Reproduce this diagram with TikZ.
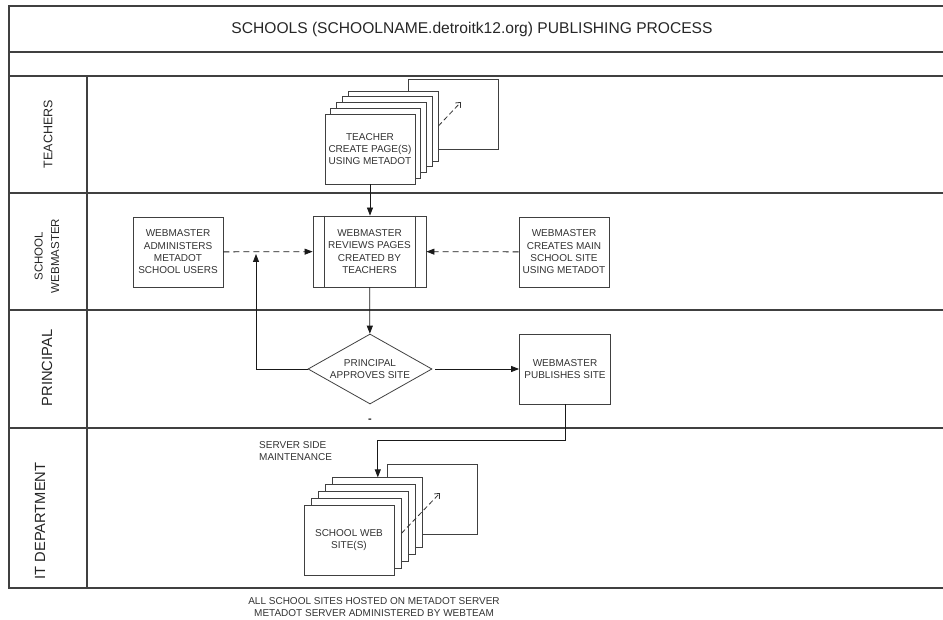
\documentclass[tikz,border=0pt]{standalone}
\usepackage{fontspec}
\setmainfont{Liberation Sans}
\usetikzlibrary{arrows.meta,shapes.geometric}

\begin{document}
\begin{tikzpicture}[x=1pt, y=-1pt,
    frame/.style={draw=black!75, line width=1.4pt},
    procbox/.style={draw=black!75, fill=white, line width=0.8pt, minimum width=90pt, minimum height=70pt, inner sep=1pt, align=center, font=\fontsize{10}{12.3}\selectfont, text=black!80},
    sheet/.style={procbox},
    lanelabel/.style={rotate=90, align=center, text=black!85},
    flowarrow/.style={draw=black!90, line width=0.8pt, -{Triangle[length=8pt,width=6pt]}},
    dasharrow/.style={flowarrow, dash pattern=on 6pt off 4pt},
    pagearrow/.style={draw=black!80, line width=0.8pt, dash pattern=on 5pt off 3pt, -{Straight Barb[length=4pt,width=7pt]}},
]
    \useasboundingbox (0,0) rectangle (943,620);

    % Swimlane frame
    \draw[frame] (943,6) -- (9,6) -- (9,588) -- (943,588);
    \foreach \y in {52,76,193,310,428} {
        \draw[frame] (9,\y) -- (943,\y);
    }
    \draw[frame] (87,76) -- (87,588);

    % Title
    \node[font=\fontsize{15.6}{18}\selectfont, text=black!85] (title) at (472,29) {SCHOOLS (SCHOOLNAME.detroitk12.org) PUBLISHING PROCESS};

    % Lane labels
    \node[lanelabel, font=\fontsize{12.5}{15}\selectfont] (lteach) at (48,134) {TEACHERS};
    \node[lanelabel, font=\fontsize{11.5}{16.5}\selectfont] (lweb) at (47,256) {SCHOOL\\WEBMASTER};
    \node[lanelabel, font=\fontsize{14.7}{17}\selectfont] (lprin) at (47,368) {PRINCIPAL};
    \node[lanelabel, font=\fontsize{14.7}{17}\selectfont] (lit) at (40,521) {IT DEPARTMENT};

    % Teachers lane - stack of pages
    \node[sheet] (tchback) at (453,114) {};
    \foreach \k in {4,...,1} {
        \node[sheet] (tch\k) at ({370+5.75*\k},{149-5.75*\k}) {};
    }
    \node[procbox] (teacher) at (370,149) {TEACHER\\CREATE PAGE(S)\\USING METADOT};
    \coordinate (tchout) at (461,102);
    \draw[pagearrow] (tch4.east) -- (tchout);

    % School webmaster lane
    \node[procbox, minimum width=113pt, minimum height=71pt] (review) at (369.5,251.5) {WEBMASTER\\REVIEWS PAGES\\CREATED BY\\TEACHERS};
    \draw[black!75, line width=0.8pt] ([xshift=12pt]review.north west) -- ([xshift=12pt]review.south west)
        ([xshift=-11pt]review.north east) -- ([xshift=-11pt]review.south east);
    \node[procbox] (admin) at (178,252) {WEBMASTER\\ADMINISTERS\\METADOT\\SCHOOL USERS};
    \node[procbox] (mainsite) at (564,252) {WEBMASTER\\CREATES MAIN\\SCHOOL SITE\\USING METADOT};

    % Principal lane
    \node[procbox, shape=diamond, minimum width=124pt, minimum height=70pt, aspect=1.77, inner sep=0pt] (approve) at (370,369) {PRINCIPAL\\APPROVES SITE};
    \node[procbox, minimum width=91pt] (publish) at (565,369) {WEBMASTER\\PUBLISHES SITE};
    \node[font=\fontsize{11}{12}\selectfont\bfseries, text=black!85] (dash) at (370,421) {-};

    % IT department lane - stack of sites
    \node[sheet] (webback) at (432,499.5) {};
    \foreach \k in {4,...,1} {
        \node[sheet] (web\k) at ({349+7.2*\k},{540-6.8*\k}) {};
    }
    \node[procbox] (website) at (349,540) {SCHOOL WEB\\SITE(S)};
    \coordinate (webout) at (440,493);
    \draw[pagearrow] (web1.east) -- (webout);
    \node[anchor=west, align=left, inner sep=0pt, font=\fontsize{10}{12}\selectfont, text=black!80] (maint) at (259,451) {SERVER SIDE\\MAINTENANCE};

    % Note under the lanes
    \node[align=center, font=\fontsize{10}{12}\selectfont, text=black!80] (hosted) at (374,607) {ALL SCHOOL SITES HOSTED ON METADOT SERVER\\METADOT SERVER ADMINISTERED BY WEBTEAM};

    % Connectors
    \draw[flowarrow] (teacher.south) -- (teacher.south |- review.north);
    \draw[dasharrow] (admin) -- (review);
    \draw[dasharrow] (mainsite) -- (review);
    \draw[flowarrow] (review) -- (approve);
    \coordinate (join) at (256,254);
    \draw[flowarrow] (approve.west) -| (join);
    \draw[flowarrow] ([xshift=3pt]approve.east) -- (publish.west);
    \draw[flowarrow] (publish.south) -- ++(0,36) -| (web4.north);

\end{tikzpicture}
\end{document}
